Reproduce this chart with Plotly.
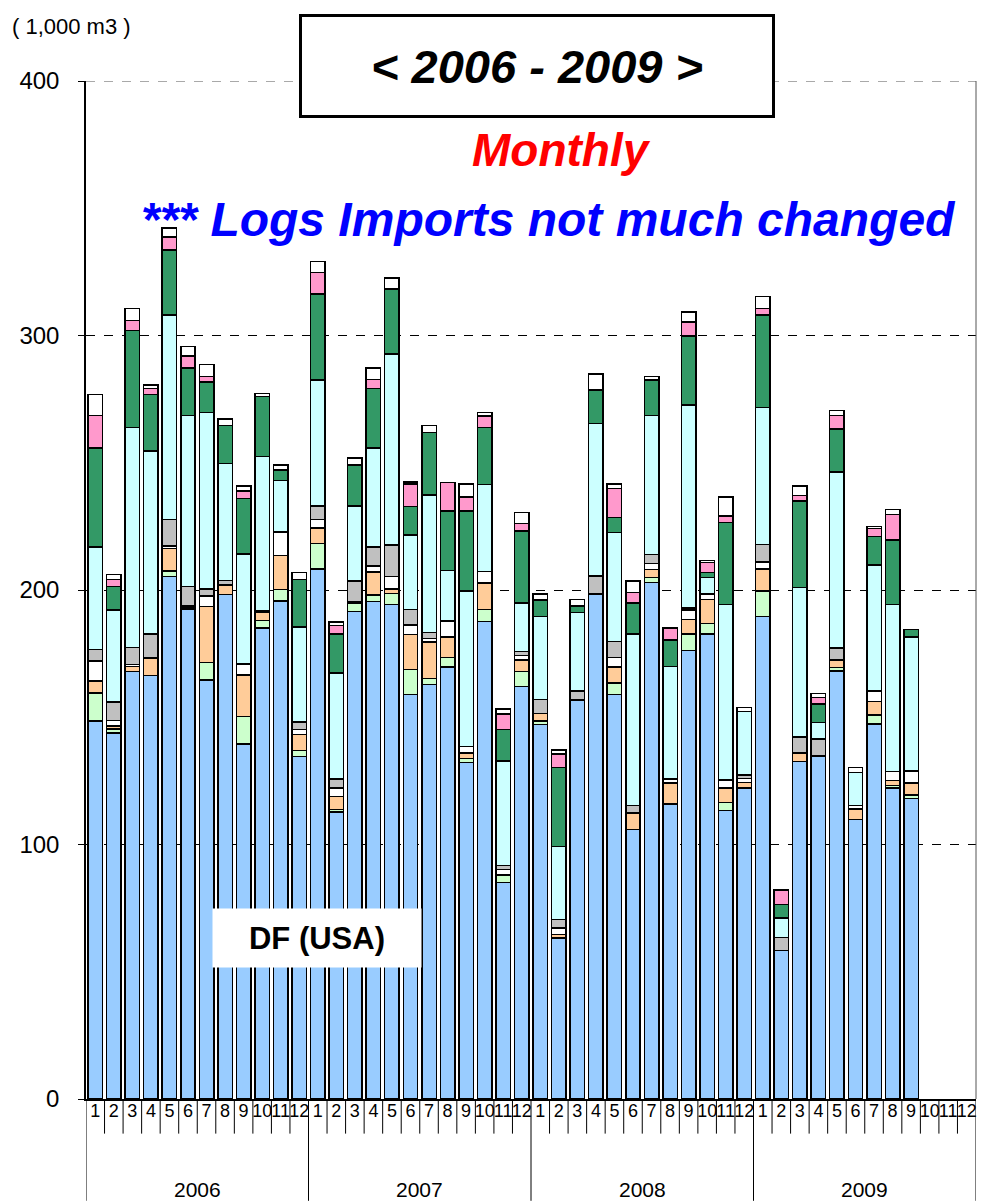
import plotly.graph_objects as go

# stacked monthly imports, 2006-2009 (1,000 m3); last 3 months of 2009 have no data
years = ["2006", "2007", "2008", "2009"]
months = ["1", "2", "3", "4", "5", "6", "7", "8", "9", "10", "11", "12"]

blue = [148.6, 143.8, 167.9, 166.5, 205.4, 192.6, 164.7, 198.2, 139.4, 185.0, 195.6, 134.6,
        208.2, 112.7, 191.6, 195.4, 194.4, 158.9, 162.9, 169.7, 132.2, 187.6, 85.1, 162.1,
        147.2, 63.2, 156.7, 198.4, 158.9, 105.9, 203.0, 115.9, 176.3, 182.7, 113.3, 122.2,
        189.6, 58.4, 132.6, 134.8, 168.1, 109.9, 147.4, 122.2, 118.0]
lgreen = [10.9, 1.6, 0, 0, 2.0, 0.6, 6.8, 0, 10.9, 3.0, 4.6, 2.4,
          10.1, 1.0, 3.0, 2.6, 4.2, 9.8, 2.4, 3.8, 1.6, 4.8, 3.0, 5.8,
          1.4, 0, 0, 0, 4.6, 0, 2.0, 0, 6.4, 4.1, 3.2, 0,
          10.0, 0, 0, 0, 1.4, 0, 3.5, 1.0, 1.4]
peach = [4.8, 1.1, 2.0, 6.8, 9.0, 0.4, 22.1, 3.8, 16.4, 3.4, 13.4, 6.2,
         6.0, 5.1, 0.6, 9.0, 1.8, 13.8, 14.2, 8.0, 2.2, 10.4, 0, 4.6,
         2.9, 1.4, 0, 0, 6.2, 6.4, 3.0, 8.3, 5.7, 9.4, 5.7, 2.2,
         8.6, 0, 3.4, 0, 3.0, 4.0, 5.2, 2.0, 4.8]
white1 = [7.8, 2.3, 0.8, 0, 0.8, 0.4, 4.0, 0, 4.2, 0.5, 8.9, 2.0,
          3.4, 3.4, 0, 2.4, 5.0, 3.7, 1.4, 6.3, 2.6, 4.4, 2.0, 1.8,
          0, 2.6, 0, 0, 3.8, 0, 2.4, 1.6, 3.8, 2.2, 3.2, 1.6,
          2.8, 0, 0, 0, 0, 1.4, 4.2, 3.4, 4.6]
gray = [4.6, 7.1, 6.8, 9.4, 10.5, 7.4, 2.8, 1.8, 0, 0, 0.4, 3.0,
        5.4, 3.6, 8.4, 7.4, 12.3, 6.2, 2.5, 0, 0, 0, 1.6, 1.6,
        5.4, 3.4, 3.6, 7.2, 6.2, 3.0, 3.6, 0, 0.8, 0, 0, 1.4,
        6.9, 5.0, 6.2, 6.6, 4.8, 0, 0, 0, 0]
cyan = [40.1, 36.3, 86.3, 71.9, 80.4, 67.2, 69.4, 45.9, 43.3, 60.5, 20.2, 37.2,
        49.5, 41.5, 29.5, 39.0, 75.0, 29.3, 53.9, 19.8, 61.0, 34.3, 41.1, 18.9,
        32.7, 28.7, 30.9, 59.8, 42.8, 67.4, 54.6, 44.1, 79.6, 6.6, 69.0, 24.9,
        53.9, 7.8, 58.8, 6.6, 69.0, 12.9, 49.5, 65.8, 52.7]
dgreen = [39.0, 9.2, 38.1, 22.2, 25.5, 18.7, 12.0, 14.9, 21.7, 23.6, 4.0, 18.8,
          33.7, 15.4, 16.0, 23.4, 25.6, 11.2, 24.5, 23.5, 31.5, 22.3, 12.4, 28.3,
          6.4, 30.9, 2.6, 13.2, 6.0, 12.1, 14.0, 10.4, 27.3, 1.8, 32.1, 0,
          36.3, 5.2, 33.9, 7.3, 16.9, 0, 11.2, 25.3, 2.9]
pink = [12.8, 2.8, 4.0, 2.4, 5.1, 4.6, 2.0, 0, 3.0, 0, 0, 0,
        8.5, 3.3, 0, 3.6, 0, 8.8, 0, 11.2, 5.4, 4.6, 6.1, 3.0,
        0, 5.4, 0, 0, 11.4, 4.2, 0, 4.7, 5.4, 4.0, 2.6, 0,
        2.6, 5.8, 2.2, 2.4, 5.4, 0, 3.1, 10.0, 0]
white2 = [8.2, 1.8, 4.8, 1.4, 3.5, 3.8, 4.9, 2.6, 2.0, 1.2, 2.1, 2.6,
          4.2, 1.4, 2.7, 4.5, 4.2, 0.8, 2.8, 0, 5.2, 1.4, 2.0, 4.4,
          2.4, 1.6, 2.4, 6.3, 1.8, 4.6, 1.3, 0, 4.0, 0.8, 7.4, 1.6,
          4.7, 0, 3.8, 1.6, 2.0, 2.0, 0.8, 2.0, 0]

series = [
    (blue, "#99CCFF"),
    (lgreen, "#CCFFCC"),
    (peach, "#FFCC99"),
    (white1, "#FFFFFF"),
    (gray, "#C0C0C0"),
    (cyan, "#CCFFFF"),
    (dgreen, "#339966"),
    (pink, "#FF99CC"),
    (white2, "#FFFFFF"),
]

n = len(years) * len(months)
xs = list(range(n))
ticktext = months * len(years)

FONT = "Liberation Sans"
NARROW = "Liberation Sans Narrow, Liberation Sans, Arial"

fig = go.Figure()
for vals, col in series:
    fig.add_trace(go.Bar(
        x=xs, y=vals + [None] * (n - len(vals)),
        marker=dict(color=col, line=dict(color="black", width=1.5)),
        width=0.78, showlegend=False, hoverinfo="skip"))

# separators under the x axis
shapes = []
for i in range(n + 1):
    big = (i % 12 == 0)
    shapes.append(dict(type="line", xref="x", yref="paper",
                       x0=i - 0.5, x1=i - 0.5, y0=0, y1=-0.1 if big else -0.034,
                       line=dict(color="black", width=1)))
# right border of the plot area and the dashed top gridline
shapes.append(dict(type="line", xref="paper", yref="paper", x0=1, x1=1, y0=0, y1=1,
                   line=dict(color="#555555", width=1)))
shapes.append(dict(type="line", xref="paper", yref="y", x0=0, x1=1, y0=400, y1=400,
                   line=dict(color="#555555", width=1, dash="dash"), layer="below"))

annotations = []
for k, yr in enumerate(years):
    annotations.append(dict(x=k * 12 + 5.5, xref="x", y=-0.089, yref="paper",
                            text=yr, showarrow=False, yanchor="middle",
                            font=dict(family=NARROW, size=21, color="black")))

annotations += [
    dict(x=-0.085, y=1.054, xref="paper", yref="paper", xanchor="left", yanchor="middle",
         text="( 1,000 m3 )", showarrow=False,
         font=dict(family=NARROW, size=22, color="black")),
    dict(x=0.5065, y=1.0147, xref="paper", yref="paper", xanchor="center", yanchor="middle",
         text="<b><i>< 2006 - 2009 ></i></b>", showarrow=False,
         width=470, height=98, bgcolor="white", bordercolor="black", borderwidth=3, borderpad=0,
         font=dict(family=FONT, size=47, color="black")),
    dict(x=0.534, y=0.932, xref="paper", yref="paper", xanchor="center", yanchor="middle",
         text="<b><i>Monthly</i></b>", showarrow=False,
         font=dict(family=FONT, size=46, color="#FF0000")),
    dict(x=0.52, y=0.8635, xref="paper", yref="paper", xanchor="center", yanchor="middle",
         text="<b><i>*** Logs Imports not much changed</i></b>", showarrow=False,
         font=dict(family=FONT, size=48, color="#0000FF")),
    dict(x=0.2596, y=0.1586, xref="paper", yref="paper", xanchor="center", yanchor="middle",
         text="<b>DF (USA)</b>", showarrow=False, width=208, height=58,
         bgcolor="white", borderpad=0,
         font=dict(family=FONT, size=31, color="black")),
]

# the page body adds an 8px offset, so margins are 8px smaller at left/top
fig.update_layout(
    width=995, height=1201,
    margin=dict(l=78, r=27, t=73, b=110, autoexpand=False),
    barmode="stack", bargap=0.2,
    plot_bgcolor="white", paper_bgcolor="white",
    shapes=shapes, annotations=annotations,
    font=dict(family=FONT, color="black"),
)
fig.update_xaxes(
    range=[-0.5, n - 0.5], tickmode="array", tickvals=xs, ticktext=ticktext,
    ticks="", showgrid=False, showline=True, linecolor="black", linewidth=1.5,
    tickfont=dict(family=NARROW, size=18, color="black"), tickangle=0, zeroline=False,
    ticklabelstandoff=-5,
)
fig.update_yaxes(
    range=[0, 400], tickvals=[0, 100, 200, 300, 400],
    ticks="outside", ticklen=6, tickcolor="black",
    showline=True, linecolor="black", linewidth=1.5,
    showgrid=True, gridcolor="black", gridwidth=1, griddash="dash",
    zeroline=False, tickfont=dict(family=NARROW, size=24, color="black"),
    ticklabelstandoff=14,
)

fig.write_html("out.html")
